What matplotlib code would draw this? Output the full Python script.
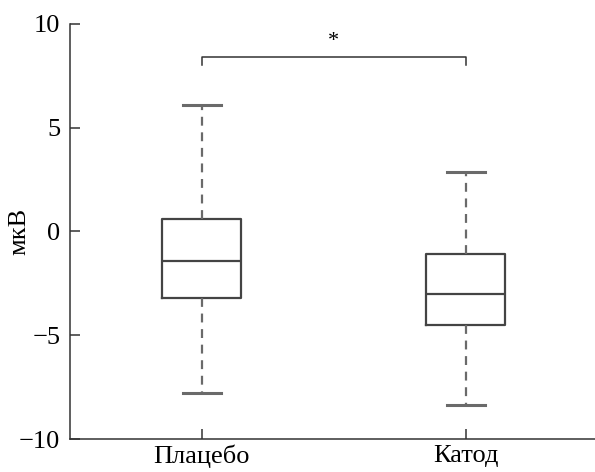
import matplotlib
matplotlib.use("Agg")
import matplotlib.pyplot as plt

plt.rcParams["font.family"] = ["Liberation Serif", "DejaVu Serif"]

# box statistics (мкВ)
groups  = ["Плацебо", "Катод"]
whislo  = [-7.8, -8.35]
q1      = [-3.2, -4.5]
median  = [-1.4, -3.0]
q3      = [0.6, -1.1]
whishi  = [6.1, 2.85]
y_ticks = [-10, -5, 0, 5, 10]
sig_y   = 8.4
sig_txt = "*"

stats = [
    {"label": g, "whislo": lo, "q1": a, "med": m, "q3": b, "whishi": hi, "fliers": []}
    for g, lo, a, m, b, hi in zip(groups, whislo, q1, median, q3, whishi)
]

fig = plt.figure(figsize=(5.95, 4.72), dpi=100)
ax = fig.add_axes([0.1176, 0.0699, 0.8824, 0.8793])

box_col = "#444444"
wh_col  = "#6a6a6a"
pos = [1, 2]
ax.bxp(
    stats, positions=pos, widths=0.3, capwidths=0.145, showfliers=False,
    boxprops=dict(color=box_col, linewidth=1.6),
    medianprops=dict(color=box_col, linewidth=1.6),
    whiskerprops=dict(color=wh_col, linewidth=1.6, linestyle=(0, (4, 3))),
    capprops=dict(color=wh_col, linewidth=2.2),
)

# significance bracket
ax.plot([pos[0], pos[0], pos[1], pos[1]], [sig_y - 0.4, sig_y, sig_y, sig_y - 0.4],
        color="#333333", linewidth=1.1)
ax.text(sum(pos) / 2, sig_y + 0.3, sig_txt, ha="center", va="bottom", fontsize=16)

ax.set_xlim(0.5, 2.49)
ax.set_ylim(-10, 10)
ax.set_yticks(y_ticks)
ax.set_yticklabels([str(v).replace("-", "\u2212") for v in y_ticks])
ax.set_xticks(pos)
ax.set_xticklabels(groups)
ax.set_ylabel("мкВ", fontsize=19)
ax.yaxis.set_label_coords(-0.075, 0.5)

for s in ["top", "right"]:
    ax.spines[s].set_visible(False)
for s in ["left", "bottom"]:
    ax.spines[s].set_color("#333333")
    ax.spines[s].set_linewidth(1.1)
ax.tick_params(direction="in", length=7, width=1.1, color="#333333", labelsize=19)
ax.tick_params(axis="y", pad=7)
ax.tick_params(axis="x", pad=4)

fig.savefig("out.png", dpi=100)
